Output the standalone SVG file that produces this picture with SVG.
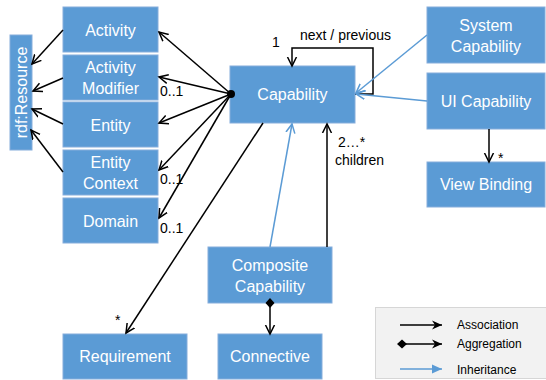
<svg xmlns="http://www.w3.org/2000/svg" width="546" height="380" viewBox="0 0 546 380">
<style>
.box{fill:#5b9bd5;stroke:#86addb;stroke-width:1}
.bt{font-family:"Liberation Sans",Arial,sans-serif;font-size:16px;fill:#fff;text-anchor:middle}
.lbl{font-family:"Liberation Sans",Arial,sans-serif;font-size:14px;fill:#000}
.lg{font-family:"Liberation Sans",Arial,sans-serif;font-size:12px;fill:#000}
.assoc{fill:none;stroke:#000;stroke-width:1.5;marker-end:url(#open)}
.inh{fill:none;stroke:#5b9bd5;stroke-width:1.5;marker-end:url(#openBlue)}
</style>
<defs>
<marker id="open" markerUnits="userSpaceOnUse" markerWidth="12" markerHeight="12" refX="9" refY="5" orient="auto" viewBox="0 0 12 10">
<path d="M0,0.5 L9,5 L0,9.5" fill="none" stroke="#000" stroke-width="1.5"/>
</marker>
<marker id="openBlue" markerUnits="userSpaceOnUse" markerWidth="12" markerHeight="12" refX="9" refY="5" orient="auto" viewBox="0 0 12 10">
<path d="M0,0.5 L9,5 L0,9.5" fill="none" stroke="#5b9bd5" stroke-width="1.5"/>
</marker>
<marker id="diamond" markerUnits="userSpaceOnUse" markerWidth="10" markerHeight="10" refX="5" refY="5" orient="auto" viewBox="0 0 10 10">
<path d="M0,5 L5,0.5 L10,5 L5,9.5 Z" fill="#000"/>
</marker>
<marker id="tri" markerUnits="userSpaceOnUse" markerWidth="12" markerHeight="10" refX="10" refY="4.5" orient="auto" viewBox="0 0 12 9">
<path d="M0,0 L10,4.5 L0,9 L3,4.5 Z" fill="#000"/>
</marker>
<marker id="triBlue" markerUnits="userSpaceOnUse" markerWidth="12" markerHeight="10" refX="10" refY="4.5" orient="auto" viewBox="0 0 12 9">
<path d="M0,0 L10,4.5 L0,9 Z" fill="#5b9bd5"/>
</marker>
</defs>

<g id="rdf-resource">
<rect class="box" x="10" y="35" width="22" height="115"/>
<text class="bt" transform="translate(26.5,92.5) rotate(-90)">rdf:Resource</text>
</g>
<g id="activity">
<rect class="box" x="63" y="7" width="95" height="45"/>
<text class="bt" x="110.5" y="36">Activity</text>
</g>
<g id="activity-modifier">
<rect class="box" x="63" y="55" width="95" height="45"/>
<text class="bt" x="110.5" y="73">Activity</text>
<text class="bt" x="110.5" y="94">Modifier</text>
</g>
<g id="entity">
<rect class="box" x="63" y="102" width="95" height="45"/>
<text class="bt" x="110.5" y="131">Entity</text>
</g>
<g id="entity-context">
<rect class="box" x="63" y="150" width="95" height="45"/>
<text class="bt" x="110.5" y="168">Entity</text>
<text class="bt" x="110.5" y="189">Context</text>
</g>
<g id="domain">
<rect class="box" x="63" y="198" width="95" height="45"/>
<text class="bt" x="110.5" y="227">Domain</text>
</g>
<g id="capability">
<rect class="box" x="230" y="66" width="125" height="57"/>
<text class="bt" x="292.5" y="100">Capability</text>
</g>
<g id="system-capability">
<rect class="box" x="427" y="7" width="118" height="56"/>
<text class="bt" x="486" y="31">System</text>
<text class="bt" x="486" y="52">Capability</text>
</g>
<g id="ui-capability">
<rect class="box" x="427" y="73" width="118" height="56"/>
<text class="bt" x="486" y="107">UI Capability</text>
</g>
<g id="view-binding">
<rect class="box" x="427" y="162" width="118" height="45"/>
<text class="bt" x="486" y="190">View Binding</text>
</g>
<g id="composite-capability">
<rect class="box" x="208" y="247" width="124" height="56"/>
<text class="bt" x="270" y="271">Composite</text>
<text class="bt" x="270" y="292">Capability</text>
</g>
<g id="requirement">
<rect class="box" x="63" y="334" width="124" height="45"/>
<text class="bt" x="125" y="362">Requirement</text>
</g>
<g id="connective">
<rect class="box" x="218" y="334" width="104" height="45"/>
<text class="bt" x="270" y="362">Connective</text>
</g>

<g id="connectors">
<line class="assoc" x1="63" y1="30" x2="32" y2="64"/>
<line class="assoc" x1="63" y1="78" x2="33" y2="91"/>
<line class="assoc" x1="63" y1="124" x2="32" y2="109"/>
<line class="assoc" x1="63" y1="172" x2="31" y2="130"/>
<line class="assoc" x1="231" y1="94" x2="159" y2="32"/>
<line class="assoc" x1="231" y1="94" x2="159" y2="77"/>
<line class="assoc" x1="231" y1="94" x2="159" y2="123"/>
<line class="assoc" x1="231" y1="94" x2="159" y2="170"/>
<line class="assoc" x1="231" y1="94" x2="159" y2="218"/>
<circle cx="231" cy="94" r="4" fill="#000"/>
<polyline class="assoc" points="355,94 373,94 373,48 292,48 292,66"/>
<line class="assoc" x1="263" y1="123" x2="126" y2="333"/>
<line class="assoc" x1="327" y1="247" x2="327" y2="124"/>
<line class="assoc" x1="489" y1="129" x2="489" y2="162"/>
<line x1="270" y1="303" x2="270" y2="334" stroke="#000" stroke-width="1.5" marker-start="url(#diamond)" marker-end="url(#open)"/>
<line class="inh" x1="427" y1="35" x2="356" y2="93"/>
<line class="inh" x1="427" y1="101" x2="356" y2="94"/>
<line class="inh" x1="270" y1="247" x2="292" y2="124"/>
<text class="lbl" x="160" y="96">0..1</text>
<text class="lbl" x="160" y="184">0..1</text>
<text class="lbl" x="160" y="233">0..1</text>
<text class="lbl" x="272" y="47">1</text>
<text class="lbl" x="300" y="40">next / previous</text>
<text class="lbl" x="338" y="147">2…*</text>
<text class="lbl" x="335" y="165">children</text>
<text class="lbl" x="498" y="163">*</text>
<text class="lbl" x="115" y="325">*</text>
</g>

<g id="legend">
<rect x="375.5" y="307.5" width="175" height="71" fill="#f2f2f2" stroke="#d6d6d6"/>
<line x1="400" y1="325" x2="442" y2="325" stroke="#000" stroke-width="1.5" marker-end="url(#tri)"/>
<line x1="402" y1="344" x2="442" y2="344" stroke="#000" stroke-width="1.5" marker-start="url(#diamond)" marker-end="url(#tri)"/>
<line x1="400" y1="369" x2="442" y2="369" stroke="#5b9bd5" stroke-width="1.5" marker-end="url(#triBlue)"/>
<text class="lg" x="457" y="329">Association</text>
<text class="lg" x="457" y="348">Aggregation</text>
<text class="lg" x="457" y="374">Inheritance</text>
</g>
</svg>
